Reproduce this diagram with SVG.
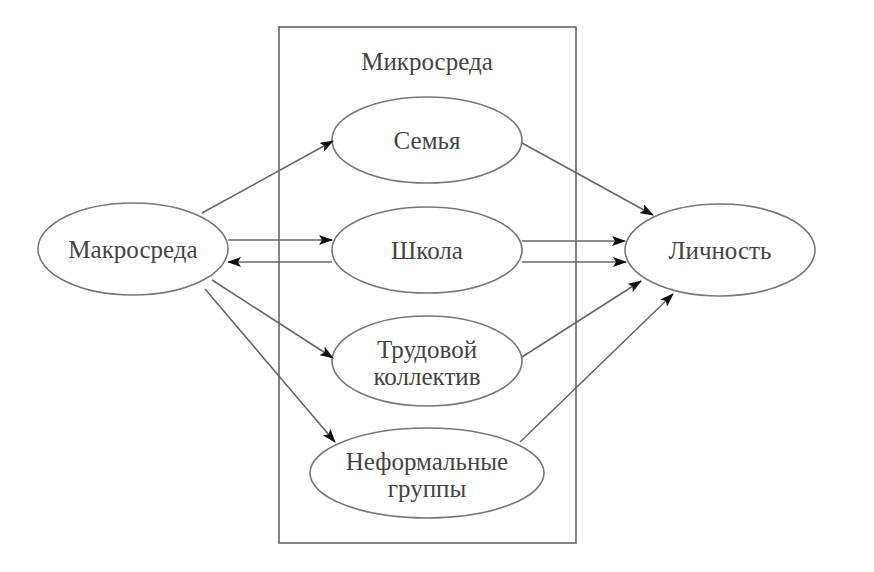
<svg xmlns="http://www.w3.org/2000/svg" width="874" height="572" viewBox="0 0 874 572">
<style>
.n{fill:#fff;stroke:#777;stroke-width:1.6}
.t{font-family:"Liberation Serif",serif;font-size:25px;fill:#444;text-anchor:middle}
.c{stroke:#666;stroke-width:1.6;fill:none;marker-end:url(#a)}
</style>
<defs>
<marker id="a" markerWidth="14" markerHeight="10" refX="13" refY="5" orient="auto" markerUnits="userSpaceOnUse">
<path d="M0,0 L14,5 L0,10 L3,5 Z" fill="#111"/>
</marker>
</defs>
<rect width="874" height="572" fill="#fff"/>
<g id="micro">
<rect x="279" y="27" width="297" height="516" fill="none" stroke="#666" stroke-width="1.6"/>
<text class="t" x="427" y="70">Микросреда</text>
</g>
<g id="macro">
<ellipse class="n" cx="133" cy="249" rx="95" ry="46"/>
<text class="t" x="133" y="258">Макросреда</text>
</g>
<g id="family">
<ellipse class="n" cx="427" cy="140" rx="95" ry="43"/>
<text class="t" x="427" y="149">Семья</text>
</g>
<g id="school">
<ellipse class="n" cx="427" cy="250" rx="95" ry="43"/>
<text class="t" x="427" y="259">Школа</text>
</g>
<g id="work">
<ellipse class="n" cx="427" cy="361" rx="95" ry="45"/>
<text class="t" x="427" y="358">Трудовой</text>
<text class="t" x="427" y="385">коллектив</text>
</g>
<g id="informal">
<ellipse class="n" cx="427" cy="473" rx="117" ry="45"/>
<text class="t" x="427" y="470">Неформальные</text>
<text class="t" x="427" y="497">группы</text>
</g>
<g id="person">
<ellipse class="n" cx="720" cy="250" rx="95" ry="46"/>
<text class="t" x="720" y="259">Личность</text>
</g>
<g id="connectors">
<line class="c" x1="202" y1="213" x2="333" y2="141"/>
<line class="c" x1="228" y1="240" x2="332" y2="240"/>
<line class="c" x1="332" y1="262" x2="228" y2="262"/>
<line class="c" x1="212" y1="280" x2="333" y2="358"/>
<line class="c" x1="205" y1="289" x2="335" y2="442"/>
<line class="c" x1="522" y1="143" x2="653" y2="215"/>
<line class="c" x1="522" y1="241" x2="625" y2="241"/>
<line class="c" x1="522" y1="262" x2="626" y2="262"/>
<line class="c" x1="522" y1="357" x2="641" y2="281"/>
<line class="c" x1="520" y1="442" x2="673" y2="294"/>
</g>
</svg>
